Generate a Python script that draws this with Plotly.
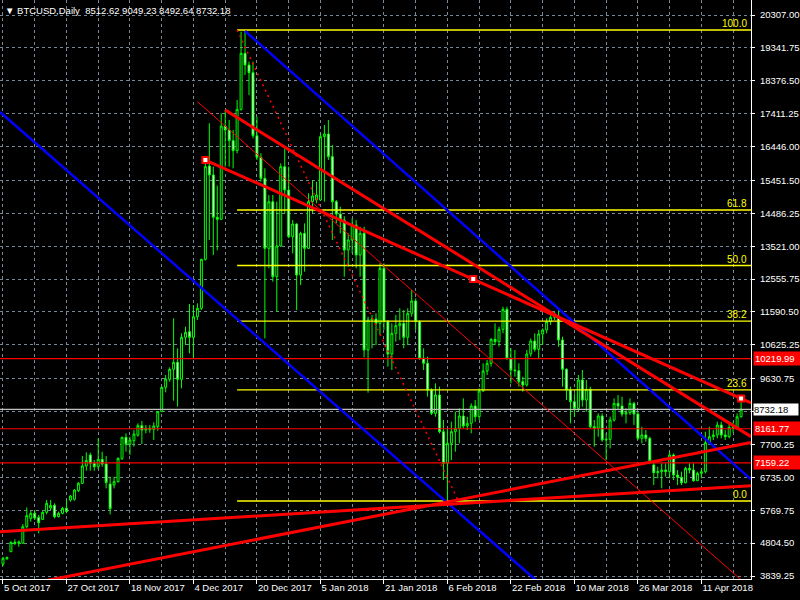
import plotly.graph_objects as go

# ---------------- data ----------------
title_text = "\u25BC BTCUSD,Daily\u00a0\u00a08512.62 9049.23 8492.64 8732.18"

date_labels = ["5 Oct 2017", "27 Oct 2017", "18 Nov 2017", "4 Dec 2017", "20 Dec 2017",
               "5 Jan 2018", "21 Jan 2018", "6 Feb 2018", "22 Feb 2018", "10 Mar 2018",
               "26 Mar 2018", "11 Apr 2018"]
date_label_bars = [0, 16, 32, 48, 64, 80, 96, 112, 128, 144, 160, 176]
minor_grid_bars = [8, 24, 40, 56, 72, 88, 104, 120, 136, 152, 168, 184]

price_ticks = [20307.00, 19341.75, 18376.50, 17411.25, 16446.00, 15451.50, 14486.25,
               13521.00, 12555.75, 11590.50, 10625.25, 9630.75, 8665.50, 7700.25,
               6735.00, 5769.75, 4804.50, 3839.25]
hidden_tick = 8665.50

opens = [4191, 4340, 4553, 4830, 4800, 4800, 5287, 5530, 5679, 5560,
         5502, 5708, 5835, 5913, 5581, 5679, 5825, 6070, 6090, 6343,
         6559, 7068, 7391, 7146, 7048, 7264, 7127, 6540, 6510, 6608,
         7293, 7910, 7714, 7811, 7978, 8252, 8125, 8174, 8145, 8222,
         8663, 9377, 9612, 9906, 10111, 9612, 10845, 11011, 10845, 11451,
         11696, 13134, 15874, 15610, 14367, 14310, 17048, 16931, 16618, 16324,
         17538, 19182, 18839, 18614, 16765, 16129, 15512, 13457, 14827, 12626,
         13526, 15855, 15170, 13800, 14172, 12675, 13898, 13457, 14827, 14876,
         14876, 16735, 16813, 16148, 14827, 14465, 14289, 13408, 13702, 14142,
         13262, 13898, 10473, 11354, 11383, 11256, 12871, 11305, 10356, 10963,
         11188, 11256, 10845, 11550, 11912, 11305, 10229, 10082, 9299, 8614,
         9152, 8076, 7147, 7733, 8076, 8174, 8536, 8242, 8321, 8830,
         8516, 9270, 9857, 10082, 10787, 10718, 11080, 11667, 10229, 9886,
         9867, 9544, 9446, 10356, 10738, 10493, 10943, 11061, 11305, 11432,
         11472, 10767, 9906, 9298, 8956, 8760, 9592, 9005, 9318, 8222,
         8180, 8535, 7831, 7850, 8418, 8907, 8829, 8594, 8633, 8907,
         8594, 7880, 7978, 7880, 7100, 6872, 6901, 6950, 6901, 7390,
         6803, 6735, 6578, 6999, 6950, 6637, 6852, 6901, 7752, 7929,
         7978, 8271, 7978, 7929, 8203, 8190, 8512.62]
highs = [4406, 4410, 4860, 4915, 4880, 5365, 5855, 5747, 5776, 5630,
         5740, 6070, 6070, 5972, 5728, 5870, 6070, 6217, 6390, 6600,
         7362, 7469, 7460, 7244, 7880, 7489, 7362, 6755, 6755, 7320,
         7929, 8027, 7929, 8125, 8320, 8389, 8271, 8271, 8350, 8683,
         9400, 9739, 9964, 11403, 10522, 10962, 11158, 11823, 11794, 11843,
         13150, 15953, 17127, 15855, 15300, 17420, 17518, 17225, 16931, 17812,
         19818, 19866, 18937, 18937, 17322, 16246, 15806, 15023, 15023, 14827,
         15953, 16393, 15855, 14289, 14191, 13946, 14191, 15072, 15463, 15414,
         16833, 17078, 17225, 16491, 14876, 14680, 14400, 13898, 14338, 14289,
         14093, 14093, 11451, 11500, 11549, 13018, 13018, 11354, 11256, 11501,
         11697, 11648, 11697, 12235, 11990, 11350, 10522, 10278, 9348, 9495,
         9397, 8419, 8174, 8370, 8663, 8761, 9055, 8516, 8908, 9006,
         9348, 10082, 10180, 10816, 11256, 11158, 11745, 11745, 10522, 10473,
         10082, 9691, 10473, 10816, 10963, 11061, 11110, 11403, 11550, 11599,
         11648, 10865, 9935, 9396, 9201, 9739, 9886, 9592, 9396, 8418,
         8614, 8614, 8027, 8516, 9054, 9152, 9103, 8760, 9054, 8956,
         8662, 8222, 8124, 7929, 7244, 7048, 7146, 7146, 7488, 7439,
         6950, 6901, 7048, 7146, 7146, 6901, 6999, 8075, 8222, 8124,
         8369, 8369, 8124, 8369, 8370, 8614, 9049.23]
lows = [4132, 4320, 4540, 4749, 4700, 4790, 5238, 5434, 5483, 5091,
        5480, 5649, 5776, 5532, 5561, 5650, 5679, 6021, 6050, 6300,
        6540, 6931, 6931, 6931, 6980, 7048, 6412, 5649, 6412, 6580,
        7244, 7489, 7391, 7636, 7929, 7714, 8027, 8047, 7831, 8105,
        8650, 9230, 9544, 8986, 8810, 9348, 10620, 10375, 10228, 11354,
        11647, 13100, 13702, 13262, 13400, 14289, 15855, 15855, 15806, 16246,
        17500, 18546, 17958, 16686, 16051, 15414, 10815, 12870, 12479, 11598,
        13500, 14485, 13751, 13311, 11647, 12381, 12772, 13440, 14485, 14778,
        14860, 14827, 16051, 13702, 14191, 13900, 12626, 12919, 13311, 12870,
        12626, 10258, 9220, 10522, 10620, 10913, 11061, 9984, 9886, 10718,
        10767, 10522, 10620, 11452, 11061, 10180, 9886, 9104, 8565, 8516,
        8027, 6657, 6041, 7244, 7489, 7734, 8174, 8125, 8027, 8370,
        8419, 9250, 9740, 9984, 10620, 10571, 10963, 10180, 9495, 9691,
        9397, 9250, 9400, 10278, 10425, 10229, 10620, 10963, 11207, 11354,
        10571, 9397, 9005, 8320, 8516, 8663, 8809, 8663, 8173, 7635,
        7928, 7782, 7244, 7586, 8369, 8711, 8516, 8320, 8565, 8271,
        7831, 7733, 7782, 7146, 6510, 6706, 6412, 6754, 6706, 6656,
        6510, 6510, 6559, 6852, 6608, 6630, 6706, 6852, 7733, 7831,
        7880, 7880, 7831, 7880, 8050, 8124, 8492.64]
closes = [4358, 4385, 4827, 4800, 4840, 5287, 5610, 5679, 5542, 5405,
          5708, 5972, 5913, 5581, 5679, 5825, 5728, 6187, 6363, 6559,
          7068, 7234, 7146, 7048, 7264, 7127, 6579, 5815, 6608, 7293,
          7910, 7704, 7831, 8007, 8252, 8125, 8174, 8145, 8242, 8663,
          9377, 9622, 9906, 10111, 9612, 10845, 10992, 10845, 11451, 11696,
          13134, 15855, 15610, 14367, 14310, 17048, 16931, 16618, 16324, 17538,
          19182, 18839, 18614, 16765, 16129, 15512, 13457, 14827, 12626, 13526,
          15855, 15170, 13800, 14172, 12675, 13898, 13457, 14827, 14994, 15023,
          16735, 16813, 16148, 14827, 14465, 14289, 13408, 13702, 14142, 13262,
          13898, 10473, 11354, 11383, 11256, 12871, 11305, 10356, 10963, 11188,
          11256, 10845, 11550, 11912, 11305, 10229, 10082, 9299, 8614, 9152,
          8076, 7147, 7733, 8076, 8174, 8536, 8242, 8321, 8830, 8516,
          9270, 9857, 10082, 10787, 10718, 11080, 11667, 10229, 9886, 9867,
          9544, 9446, 10356, 10738, 10493, 10943, 11061, 11305, 11432, 11472,
          10767, 9906, 9298, 8956, 8760, 9592, 9005, 9318, 8222, 8180,
          8535, 7831, 7850, 8418, 8907, 8829, 8594, 8633, 8907, 8594,
          7880, 7978, 7880, 7224, 6872, 6901, 6950, 6901, 7390, 6803,
          6735, 6578, 6999, 6950, 6637, 6852, 6901, 7752, 7929, 7978,
          8271, 7978, 7929, 8203, 8190, 8512, 8732.18]

current_price = 8732.18
red_levels = [10219.99, 8161.77, 7159.22]

fib_high = 19866
fib_low = 6041
fib_start_bar = 59
fib_end_bar = 114.75
fib_ratios = [1.0, 0.618, 0.5, 0.382, 0.236, 0.0]
fib_texts = ["100.0", "61.8", "50.0", "38.2", "23.6", "0.0"]

# trend lines: (bar index, price) endpoints
blue_upper = ([61, 188.5], [19837, 6678])
blue_lower = ([-0.75, 140], [17460, 3138])
red_thick_lines = [
    ([51, 188.5], [16050, 8920]),
    ([56, 188.5], [17518, 7930]),
    ([10, 188.5], [3684, 7760]),
    ([-0.75, 188.5], [5140, 6490]),
]
red_thin_line = ([49, 188], [17762, 3522])
anchor_points = ([51, 118.5, 186], [16050, 12557, 9049.23])

# ---------------- figure ----------------
X_MIN, X_MAX = -0.75, 188.5
Y_MIN, Y_MAX = 3751.3, 20747.3
FONT = "Liberation Sans"
GRID = "#778899"

fig = go.Figure()

fig.add_trace(go.Candlestick(
    x=list(range(len(opens))), open=opens, high=highs, low=lows, close=closes,
    increasing=dict(line=dict(color="#00FF00", width=1), fillcolor="#000000"),
    decreasing=dict(line=dict(color="#00FF00", width=1), fillcolor="#FFFFFF"),
    whiskerwidth=0, showlegend=False, hoverinfo="skip"))

# horizontal price lines
for lv in red_levels:
    fig.add_trace(go.Scatter(x=[X_MIN, X_MAX], y=[lv, lv], mode="lines",
                             line=dict(color="#FF0000", width=1.2), showlegend=False, hoverinfo="skip"))
fig.add_trace(go.Scatter(x=[X_MIN, X_MAX], y=[current_price, current_price], mode="lines",
                         line=dict(color="#C0C0C0", width=1.2), showlegend=False, hoverinfo="skip"))

# fibonacci
for r in fib_ratios:
    lv = fib_low + r * (fib_high - fib_low)
    fig.add_trace(go.Scatter(x=[fib_start_bar, X_MAX], y=[lv, lv], mode="lines",
                             line=dict(color="#FFFF00", width=1.4), showlegend=False, hoverinfo="skip"))
fig.add_trace(go.Scatter(x=[fib_start_bar, fib_end_bar], y=[fib_high, fib_low], mode="lines",
                         line=dict(color="#FF0000", width=1.5, dash="2px,4px"), showlegend=False, hoverinfo="skip"))

# channels and trend lines
for ln in (blue_upper, blue_lower):
    fig.add_trace(go.Scatter(x=ln[0], y=ln[1], mode="lines",
                             line=dict(color="#0000FF", width=2.5), showlegend=False, hoverinfo="skip"))
fig.add_trace(go.Scatter(x=red_thin_line[0], y=red_thin_line[1], mode="lines",
                         line=dict(color="#FF0000", width=1), showlegend=False, hoverinfo="skip"))
for ln in red_thick_lines:
    fig.add_trace(go.Scatter(x=ln[0], y=ln[1], mode="lines",
                             line=dict(color="#FF0000", width=3), showlegend=False, hoverinfo="skip"))
fig.add_trace(go.Scatter(x=anchor_points[0], y=anchor_points[1], mode="markers",
                         marker=dict(symbol="square", size=6, color="#FFFFFF",
                                     line=dict(color="#FF0000", width=2)),
                         showlegend=False, hoverinfo="skip"))

annotations = []
annotations.append(dict(xref="paper", yref="paper", x=0, y=1, xanchor="left", yanchor="top",
                        xshift=3, yshift=-3, text=title_text, showarrow=False,
                        font=dict(family=FONT, size=9.5, color="#FFFFFF")))
for r, t in zip(fib_ratios, fib_texts):
    lv = fib_low + r * (fib_high - fib_low)
    annotations.append(dict(xref="paper", yref="y", x=1, y=lv, xanchor="right", yanchor="bottom",
                            xshift=-2, yshift=-1, text=t, showarrow=False,
                            font=dict(family=FONT, size=10, color="#FFFF00")))
for lv in red_levels:
    annotations.append(dict(xref="paper", yref="y", x=1, y=lv, xanchor="left", yanchor="middle",
                            xshift=2, text="%.2f" % lv, showarrow=False, bgcolor="#FF0000",
                            width=44, align="left", borderpad=1,
                            font=dict(family=FONT, size=9.5, color="#FFFFFF")))
annotations.append(dict(xref="paper", yref="y", x=1, y=current_price, xanchor="left", yanchor="middle",
                        xshift=2, text="%.2f" % current_price, showarrow=False, bgcolor="#FFFFFF",
                        width=44, align="left", borderpad=0,
                        font=dict(family=FONT, size=9.5, color="#000000")))

fig.update_layout(
    width=800, height=600,
    margin=dict(l=0, r=43, t=0, b=21),
    paper_bgcolor="#000000", plot_bgcolor="#000000",
    showlegend=False,
    annotations=annotations,
    xaxis=dict(range=[X_MIN, X_MAX], rangeslider=dict(visible=False),
               tickmode="array", tickvals=date_label_bars, ticktext=date_labels,
               ticks="outside", ticklen=4, tickcolor="#FFFFFF",
               ticklabelposition="outside right",
               tickfont=dict(family=FONT, size=9.5, color="#FFFFFF"),
               showline=True, linecolor="#FFFFFF", linewidth=1,
               showgrid=True, gridcolor=GRID, griddash="3px,3px", gridwidth=1,
               minor=dict(tickmode="array", tickvals=minor_grid_bars, showgrid=True,
                          gridcolor=GRID, griddash="3px,3px", ticks=""),
               zeroline=False, fixedrange=True),
    yaxis=dict(range=[Y_MIN, Y_MAX], side="right",
               tickmode="array", tickvals=price_ticks,
               ticktext=["" if v == hidden_tick else "%.2f" % v for v in price_ticks],
               ticks="outside", ticklen=3, tickcolor="#FFFFFF", ticklabelstandoff=3,
               tickfont=dict(family=FONT, size=9.5, color="#FFFFFF"),
               showline=True, linecolor="#FFFFFF", linewidth=1,
               showgrid=True, gridcolor=GRID, griddash="3px,3px", gridwidth=1,
               zeroline=False, fixedrange=True),
)

fig.write_html("out.html", config={"displayModeBar": False},
               post_script="document.body.style.margin='0px';")
